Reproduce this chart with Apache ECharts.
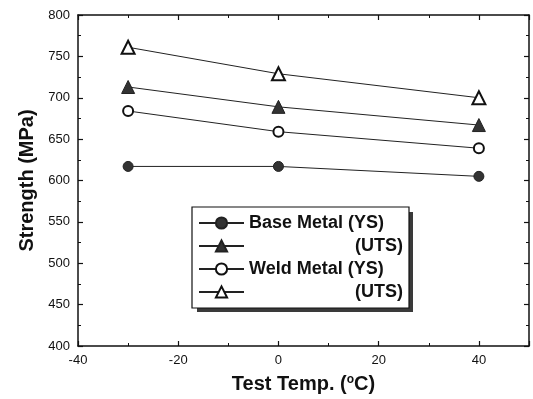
<!DOCTYPE html>
<html>
<head>
<meta charset="utf-8">
<script src="https://cdn.jsdelivr.net/npm/echarts@6/dist/echarts.min.js"></script>
<style>
  html, body { margin: 0; padding: 0; background: #fff; }
  #chart { width: 533px; height: 399px; }
</style>
</head>
<body>
<div id="chart"></div>
<script>
const temps = [-30, 0, 40];
const baseYS = [617, 617, 605];
const baseUTS = [713, 689, 667];
const weldYS = [684, 659, 639];
const weldUTS = [761, 729, 700];
const seriesNames = ['Base Metal (YS)', 'Base Metal (UTS)', 'Weld Metal (YS)', 'Weld Metal (UTS)'];
const legendLabels = ['Base Metal (YS)', '(UTS)', 'Weld Metal (YS)', '(UTS)'];

const ink = '#222';
const font = 'Liberation Sans, Arial, sans-serif';

function pairs(vals) {
  return temps.map((t, i) => [t, vals[i]]);
}

function makeSeries(name, vals, symbol, size, filled) {
  return {
    name: name,
    type: 'line',
    data: pairs(vals),
    symbol: symbol,
    symbolSize: size,
    showAllSymbol: true,
    animation: false,
    lineStyle: { color: ink, width: 1 },
    itemStyle: filled
      ? { color: '#333', borderColor: '#222', borderWidth: 1 }
      : { color: '#111', borderColor: '#111', borderWidth: 1 }
  };
}

const frameAxis = {
  axisLine: { show: true, onZero: false, lineStyle: { color: '#111', width: 1.5 } },
  axisTick: { show: true, inside: true, length: 5, lineStyle: { color: '#111', width: 1.2 } },
  minorTick: { show: true, splitNumber: 2, length: 3, lineStyle: { color: '#111', width: 1 } },
  splitLine: { show: false }
};

let myChart = echarts.init(document.getElementById('chart'));
myChart.setOption({
  backgroundColor: '#fff',
  textStyle: { fontFamily: font },
  grid: { left: 78, top: 15, right: 4, bottom: 52 },
  // drop shadow behind the legend box
  graphic: [{
    type: 'rect',
    z: 3,
    shape: { x: 197, y: 212, width: 216, height: 100 },
    style: { fill: '#3a3a3a' }
  }],
  xAxis: [
    Object.assign({
      type: 'value', min: -40, max: 50, interval: 20, position: 'bottom',
      axisLabel: {
        color: '#111', fontSize: 13, margin: 8,
        formatter: v => (v > 40 ? '' : String(v))
      },
      name: 'Test Temp. ({sup|o}C)',
      nameLocation: 'middle',
      nameGap: 28,
      nameTextStyle: {
        color: '#111', fontSize: 20, fontWeight: 'bold', fontFamily: font,
        rich: { sup: { fontSize: 12, fontWeight: 'bold', verticalAlign: 'top', padding: [0, 0, 8, 0] } }
      }
    }, frameAxis),
    Object.assign({
      type: 'value', min: -40, max: 50, interval: 20, position: 'top',
      axisLabel: { show: false }
    }, frameAxis)
  ],
  yAxis: [
    Object.assign({
      type: 'value', min: 400, max: 800, interval: 50, position: 'left',
      axisLabel: { color: '#111', fontSize: 13, margin: 8 },
      name: 'Strength (MPa)',
      nameLocation: 'middle',
      nameGap: 41,
      nameTextStyle: { color: '#111', fontSize: 20, fontWeight: 'bold', fontFamily: font }
    }, frameAxis),
    Object.assign({
      type: 'value', min: 400, max: 800, interval: 50, position: 'right',
      axisLabel: { show: false }
    }, frameAxis)
  ],
  legend: {
    data: seriesNames,
    orient: 'vertical',
    left: 192,
    top: 207,
    z: 4,
    padding: [7, 6, 7, 6],
    itemWidth: 45,
    itemHeight: 14,
    itemGap: 5,
    backgroundColor: '#fff',
    borderColor: '#111',
    borderWidth: 1.2,
    borderRadius: 0,
    selectedMode: false,
    formatter: function (name) {
      const label = legendLabels[seriesNames.indexOf(name)];
      return label === '(UTS)' ? '{r|' + label + '}' : '{l|' + label + '}';
    },
    textStyle: {
      color: '#111', fontSize: 18, fontWeight: 'bold', fontFamily: font, lineHeight: 18,
      rich: {
        l: { width: 154, align: 'left', fontSize: 18, fontWeight: 'bold', lineHeight: 18 },
        r: { width: 154, align: 'right', fontSize: 18, fontWeight: 'bold', lineHeight: 18 }
      }
    }
  },
  series: [
    makeSeries(seriesNames[0], baseYS, 'circle', 10, true),
    makeSeries(seriesNames[1], baseUTS, 'triangle', 13, true),
    makeSeries(seriesNames[2], weldYS, 'emptyCircle', 10, false),
    makeSeries(seriesNames[3], weldUTS, 'emptyTriangle', 13, false)
  ]
});
</script>
</body>
</html>
